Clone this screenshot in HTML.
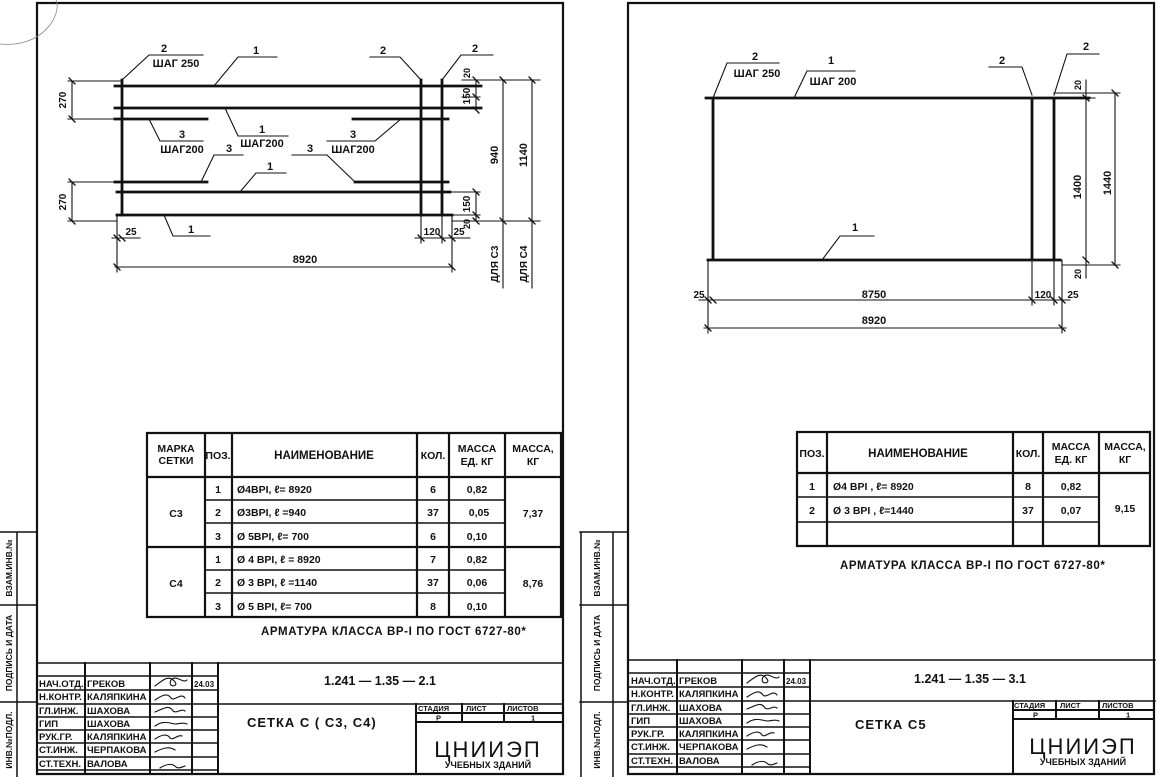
<!DOCTYPE html>
<html><head><meta charset="utf-8"><style>
html,body{margin:0;padding:0;background:#fff;}
svg{display:block;}
text{font-family:"Liberation Sans Narrow","Liberation Sans",sans-serif;font-weight:bold;fill:#111;}
</style></head><body>
<svg width="1159" height="777" viewBox="0 0 1159 777" xmlns="http://www.w3.org/2000/svg">
<g stroke="#111" fill="none" stroke-linecap="square">
<path d="M37 3 H563 V774 H37 Z" stroke-width="2.2"/>
<path d="M0 532 H37 M0 605 H37 M0 702 H37 M17 532 V777" stroke-width="1.5"/>
<path d="M628 3 H1154 V774 H628 Z" stroke-width="2.2"/>
<path d="M580 532 H628 M580 605 H628 M580 702 H628 M613 532 V777 M581 532 V777" stroke-width="1.5"/>

<g stroke-width="2.8">
<path d="M115 86 H481 M115 108 H481 M115 119 H207 M353 119 H448 M115 182 H207 M355 182 H448 M117 192 H450 M117 215 H452"/>
<path d="M122 80 V215 M421 80 V215 M442 80 V215"/>
</g>
<g stroke-width="1.1">
<path d="M117 215 V272 M452 215 V272 M421 215 V243 M442 215 V243"/>
<path d="M122 80 L149 55 H203 M214 86 L238 57 H277 M421 80 L400 57 H370 M442 80 L461 55 H493"/>
<path d="M149 119 L160 141 H203 M225 108 L238 136 H288 M401 119 L375 141 H327"/>
<path d="M201 182 L214 155 H243 M355 182 L327 155 H292 M240 192 L256 173 H286 M164 215 L173 236 H210"/>
<path d="M72 81 V119 M68 81 H122 M68 119 H115 M72 182 V221 M68 182 H115 M68 221 H117"/>
<path d="M476 80 V110 M462 80 H540 M462 97 H480 M476 192 V221 M452 192 H480 M452 215 H480 M452 221 H540"/>
<path d="M503 80 V288 M532 80 V288"/>
<path d="M112 238 H140 M415 238 H448 M448 238 H470 M115 267 H452"/>
</g>
<g stroke-width="1.3">
<path d="M69 78 L75 84 M69 116 L75 122 M69 179 L75 185 M69 218 L75 224 M473 77 L479 83 M473 94 L479 100 M473 107 L479 113 M473 189 L479 195 M473 212 L479 218 M473 218 L479 224 M500 77 L506 83 M500 218 L506 224 M529 77 L535 83 M529 218 L535 224 M114 235 L120 241 M119 235 L125 241 M418 235 L424 241 M439 235 L445 241 M449 235 L455 241 M114 264 L120 270 M449 264 L455 270"/>
</g>

<g stroke-width="2.8">
<path d="M706 98 H1089 M708 260 H1060 M713 98 V260 M1032 98 V260 M1054 98 V260"/>
</g>
<g stroke-width="1.1">
<path d="M708 260 V333 M1032 260 V305 M1054 260 V305 M1062 260 V333"/>
<path d="M713 98 L727 63 H779 M794 98 L807 71 H855 M1032 95 L1022 67 H989 M1054 95 L1067 54 H1099 M822 260 L840 236 H874"/>
<path d="M1086 80 V278 M1054 98 H1095 M1062 265 H1095 M1115 93 V265 M1054 93 H1120 M1062 265 H1120"/>
<path d="M699 300 H1070 M704 328 H1066"/>
</g>
<g stroke-width="1.3">
<path d="M1083 95 L1089 101 M1083 257 L1089 263 M1112 90 L1118 96 M1112 262 L1118 268 M705 297 L711 303 M710 297 L716 303 M1029 297 L1035 303 M1051 297 L1057 303 M1059 297 L1065 303 M705 325 L711 331 M1059 325 L1065 331"/>
</g>

<g stroke-width="2.2">
<path d="M147 433 H561 V617 H147 Z M147 477 H561 M147 547 H561 M205 433 V617 M232 433 V617 M417 433 V617 M449 433 V617 M505 433 V617"/>
</g>
<g stroke-width="1.6">
<path d="M205 500 H505 M205 523 H505 M205 570 H505 M205 593 H505"/>
</g>
<g stroke-width="2.2">
<path d="M797 432 H1150 V546 H797 Z M797 473 H1150 M827 432 V546 M1013 432 V546 M1043 432 V546 M1099 432 V546"/>
</g>
<g stroke-width="1.6"><path d="M797 497 H1099 M797 522 H1099"/></g>

<g stroke-width="1.5">
<path d="M37 663 H563 M218 704 H563 M37 676 H218 M37 690 H218 M37 704 H218 M37 717 H218 M37 730 H218 M37 743 H218 M37 757 H218 M37 770 H218" />
<path d="M85 663 V774 M150 663 V774 M192 663 V774 M218 663 V774 M416 704 V774 M416 713 H561 M416 722 H561 M462 704 V722 M504 704 V722" stroke-width="2"/>
</g>
<g transform="translate(592,-3)" stroke-width="1.5">
<path d="M37 663 H563 M218 704 H563 M37 676 H218 M37 690 H218 M37 704 H218 M37 717 H218 M37 730 H218 M37 743 H218 M37 757 H218 M37 770 H218" />
<path d="M85 663 V777 M150 663 V777 M192 663 V777 M218 663 V777 M421 704 V777 M421 713 H561 M421 722 H561 M464 704 V722 M507 704 V722" stroke-width="2"/>
</g>

<g stroke-width="1.1">
<path d="M155 686 c8 -6 14 -12 20 -4 c4 5 -8 6 -4 -2 c5 -6 12 4 16 0 M155 700 c6 -4 12 -8 16 -2 c3 4 10 -6 14 0 M155 712 c8 -3 14 -8 18 -1 c4 3 8 -3 12 0 M155 726 c8 -6 14 -3 20 -2 c4 0 8 -2 12 0 M155 739 c6 -4 12 -6 15 -1 c3 3 8 -4 12 -2 M155 752 c8 -4 14 -6 20 -2 M160 768 c6 -4 12 -5 16 -1 c3 2 6 0 9 -1"/>
<path d="M747 683 c8 -6 14 -12 20 -4 c4 5 -8 6 -4 -2 c5 -6 12 4 16 0 M747 697 c6 -4 12 -8 16 -2 c3 4 10 -6 14 0 M747 709 c8 -3 14 -8 18 -1 c4 3 8 -3 12 0 M747 723 c8 -6 14 -3 20 -2 c4 0 8 -2 12 0 M747 736 c6 -4 12 -6 15 -1 c3 3 8 -4 12 -2 M747 749 c8 -4 14 -6 20 -2 M752 765 c6 -4 12 -5 16 -1 c3 2 6 0 9 -1"/>
</g>
</g>

<g font-size="11" text-anchor="middle">
<text x="164" y="52">2</text><text x="176" y="67">ШАГ 250</text>
<text x="256" y="54">1</text>
<text x="383" y="54">2</text><text x="475" y="52">2</text>
<text x="182" y="138">3</text><text x="182" y="153">ШАГ200</text>
<text x="262" y="133">1</text><text x="262" y="147">ШАГ200</text>
<text x="353" y="138">3</text><text x="353" y="153">ШАГ200</text>
<text x="229" y="152">3</text><text x="310" y="152">3</text>
<text x="270" y="170">1</text><text x="191" y="233">1</text>
<text x="131" y="235" font-size="10">25</text><text x="432" y="235" font-size="10">120</text><text x="459" y="235" font-size="10">25</text>
<text x="305" y="263">8920</text>
<text transform="translate(66,100) rotate(-90)" font-size="10">270</text>
<text transform="translate(66,202) rotate(-90)" font-size="10">270</text>
<text transform="translate(470,73) rotate(-90)" font-size="9">20</text>
<text transform="translate(470,96) rotate(-90)" font-size="10">150</text>
<text transform="translate(470,204) rotate(-90)" font-size="10">150</text>
<text transform="translate(470,224) rotate(-90)" font-size="9">20</text>
<text transform="translate(498,155) rotate(-90)">940</text>
<text transform="translate(527,155) rotate(-90)">1140</text>
<text transform="translate(498,264) rotate(-90)" font-size="10">ДЛЯ С3</text>
<text transform="translate(527,264) rotate(-90)" font-size="10">ДЛЯ С4</text>
</g>

<g font-size="11" text-anchor="middle">
<text x="755" y="60">2</text><text x="757" y="77">ШАГ 250</text>
<text x="831" y="64">1</text><text x="833" y="85">ШАГ 200</text>
<text x="1002" y="64">2</text><text x="1086" y="50">2</text>
<text x="855" y="231">1</text>
<text x="699" y="298" font-size="10">25</text><text x="874" y="298">8750</text><text x="1043" y="298" font-size="10">120</text><text x="1073" y="298" font-size="10">25</text>
<text x="874" y="324">8920</text>
<text transform="translate(1081,85) rotate(-90)" font-size="9">20</text>
<text transform="translate(1081,187) rotate(-90)">1400</text>
<text transform="translate(1081,274) rotate(-90)" font-size="9">20</text>
<text transform="translate(1111,183) rotate(-90)">1440</text>
</g>

<g font-size="10.5">
<g text-anchor="middle">
<text x="176" y="452">МАРКА</text><text x="176" y="464">СЕТКИ</text>
<text x="218" y="459">ПОЗ.</text>
<text x="324" y="459" font-size="11.5">НАИМЕНОВАНИЕ</text>
<text x="433" y="459">КОЛ.</text>
<text x="477" y="452">МАССА</text><text x="477" y="465">ЕД. КГ</text>
<text x="533" y="452">МАССА,</text><text x="533" y="465">КГ</text>
<text x="176" y="517">С3</text><text x="176" y="587">С4</text>
<text x="533" y="517">7,37</text><text x="533" y="587">8,76</text>
<text x="218" y="493">1</text><text x="218" y="516">2</text><text x="218" y="540">3</text>
<text x="218" y="563">1</text><text x="218" y="586">2</text><text x="218" y="610">3</text>
<text x="433" y="493">6</text><text x="433" y="516">37</text><text x="433" y="540">6</text>
<text x="433" y="563">7</text><text x="433" y="586">37</text><text x="433" y="610">8</text>
<text x="477" y="493">0,82</text><text x="479" y="516">0,05</text><text x="477" y="540">0,10</text>
<text x="477" y="563">0,82</text><text x="477" y="586">0,06</text><text x="477" y="610">0,10</text>
</g>
<text x="237" y="493">Ø4ВРI,  ℓ= 8920</text>
<text x="237" y="516">Ø3ВРI,  ℓ =940</text>
<text x="237" y="540">Ø 5ВРI,  ℓ= 700</text>
<text x="237" y="563">Ø 4 ВРI,  ℓ = 8920</text>
<text x="237" y="586">Ø 3 ВРI,  ℓ =1140</text>
<text x="237" y="610">Ø 5 ВРI,   ℓ= 700</text>
<text x="261" y="635" font-size="11.5" letter-spacing="0.6">АРМАТУРА  КЛАССА  ВР-I  ПО  ГОСТ  6727-80*</text>
</g>

<g font-size="10.5">
<g text-anchor="middle">
<text x="812" y="457">ПОЗ.</text>
<text x="918" y="457" font-size="11.5">НАИМЕНОВАНИЕ</text>
<text x="1028" y="457">КОЛ.</text>
<text x="1071" y="450">МАССА</text><text x="1071" y="463">ЕД. КГ</text>
<text x="1125" y="450">МАССА,</text><text x="1125" y="463">КГ</text>
<text x="812" y="490">1</text><text x="812" y="514">2</text>
<text x="1028" y="490">8</text><text x="1028" y="514">37</text>
<text x="1071" y="490">0,82</text><text x="1071" y="514">0,07</text>
<text x="1125" y="512">9,15</text>
</g>
<text x="833" y="490">Ø4 ВРI ,  ℓ= 8920</text>
<text x="833" y="514">Ø 3 ВРI ,  ℓ=1440</text>
<text x="840" y="569" font-size="11.5" letter-spacing="0.6">АРМАТУРА  КЛАССА  ВР-I  ПО  ГОСТ  6727-80*</text>
</g>

<g font-size="9.5">
<text x="39" y="687">НАЧ.ОТД.</text><text x="87" y="687">ГРЕКОВ</text><text x="194" y="687" font-size="8">24.03</text>
<text x="39" y="700">Н.КОНТР.</text><text x="87" y="700">КАЛЯПКИНА</text>
<text x="39" y="714">ГЛ.ИНЖ.</text><text x="87" y="714">ШАХОВА</text>
<text x="39" y="727">ГИП</text><text x="87" y="727">ШАХОВА</text>
<text x="39" y="740">РУК.ГР.</text><text x="87" y="740">КАЛЯПКИНА</text>
<text x="39" y="753">СТ.ИНЖ.</text><text x="87" y="753">ЧЕРПАКОВА</text>
<text x="39" y="767">СТ.ТЕХН.</text><text x="87" y="767">ВАЛОВА</text>
<text x="418" y="711" font-size="7.5">СТАДИЯ</text><text x="466" y="711" font-size="7.5">ЛИСТ</text><text x="507" y="711" font-size="7.5">ЛИСТОВ</text>
<text x="436" y="720.5" font-size="7.5">Р</text><text x="531" y="720.5" font-size="7.5">1</text>
</g>
<text x="380" y="685" font-size="12.5" text-anchor="middle">1.241 — 1.35 — 2.1</text>
<text x="247" y="727" font-size="13" letter-spacing="1">СЕТКА  С ( С3, С4)</text>
<text x="488" y="757" font-size="22" text-anchor="middle" letter-spacing="2" style="font-weight:normal">ЦНИИЭП</text>
<text x="488" y="768" font-size="9" text-anchor="middle">УЧЕБНЫХ ЗДАНИЙ</text>

<g font-size="9.5">
<text x="631" y="684">НАЧ.ОТД.</text><text x="679" y="684">ГРЕКОВ</text><text x="786" y="684" font-size="8">24.03</text>
<text x="631" y="697">Н.КОНТР.</text><text x="679" y="697">КАЛЯПКИНА</text>
<text x="631" y="711">ГЛ.ИНЖ.</text><text x="679" y="711">ШАХОВА</text>
<text x="631" y="724">ГИП</text><text x="679" y="724">ШАХОВА</text>
<text x="631" y="737">РУК.ГР.</text><text x="679" y="737">КАЛЯПКИНА</text>
<text x="631" y="750">СТ.ИНЖ.</text><text x="679" y="750">ЧЕРПАКОВА</text>
<text x="631" y="764">СТ.ТЕХН.</text><text x="679" y="764">ВАЛОВА</text>
<text x="1014" y="708" font-size="7.5">СТАДИЯ</text><text x="1060" y="708" font-size="7.5">ЛИСТ</text><text x="1102" y="708" font-size="7.5">ЛИСТОВ</text>
<text x="1033" y="717.5" font-size="7.5">Р</text><text x="1126" y="717.5" font-size="7.5">1</text>
</g>
<text x="970" y="683" font-size="12.5" text-anchor="middle">1.241 — 1.35 — 3.1</text>
<text x="855" y="729" font-size="13" letter-spacing="1">СЕТКА   С5</text>
<text x="1083" y="754" font-size="22" text-anchor="middle" letter-spacing="2" style="font-weight:normal">ЦНИИЭП</text>
<text x="1083" y="765" font-size="9" text-anchor="middle">УЧЕБНЫХ ЗДАНИЙ</text>

<g font-size="8.5" text-anchor="middle">
<text transform="translate(12,568) rotate(-90)">ВЗАМ.ИНВ.№</text>
<text transform="translate(12,653) rotate(-90)">ПОДПИСЬ И ДАТА</text>
<text transform="translate(12,740) rotate(-90)">ИНВ.№ПОДЛ.</text>
<text transform="translate(600,568) rotate(-90)">ВЗАМ.ИНВ.№</text>
<text transform="translate(600,653) rotate(-90)">ПОДПИСЬ И ДАТА</text>
<text transform="translate(600,740) rotate(-90)">ИНВ.№ПОДЛ.</text>
</g>

<g stroke="#888" fill="none" stroke-width="0.8">
<path d="M0 44 C20 46 40 40 52 22 C58 12 58 4 56 0"/>
</g>
</svg>
</body></html>
